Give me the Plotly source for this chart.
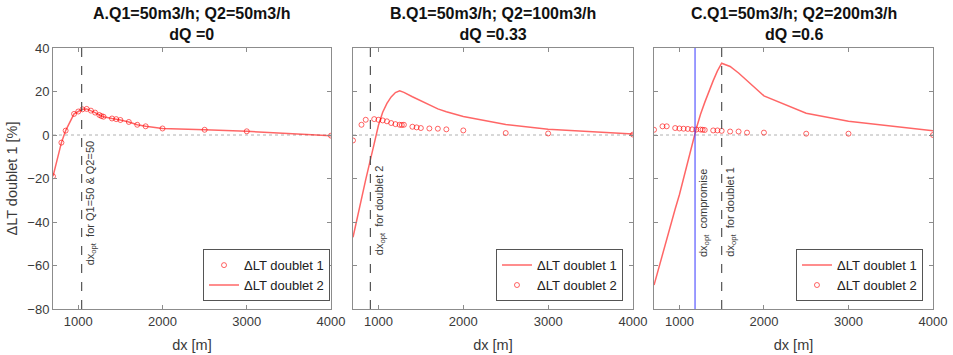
import plotly.graph_objects as go

# Well spacing grid [m]
dx = [700, 800, 850, 950, 1000, 1050, 1100, 1150, 1200, 1250, 1275, 1300,
      1400, 1450, 1500, 1600, 1700, 1800, 2000, 2500, 3000, 4000]

# Change in lifetime [%] per doublet
# A: Q1 = Q2, both doublets respond identically
a_doublet1 = [-19.0, -3.5, 2.0, 9.7, 10.8, 11.8, 12.0, 11.2, 10.3, 9.2, 8.7, 8.4,
              7.6, 7.3, 6.9, 6.0, 4.7, 4.0, 3.0, 2.4, 1.7, -0.3]
a_doublet2 = list(a_doublet1)

b_doublet1 = [-47.0, -29.0, -20.5, -4.0, 4.5, 10.5, 14.5, 17.5, 19.5, 20.3, 20.1, 19.6,
              17.6, 16.7, 15.7, 13.8, 12.0, 10.7, 8.5, 4.8, 2.7, 0.5]
b_doublet2 = [-2.5, 4.7, 7.0, 7.3, 7.0, 6.7, 6.3, 5.5, 5.0, 4.7, 4.6, 4.7,
              3.8, 3.5, 3.2, 3.0, 2.9, 2.6, 2.1, 0.9, 0.7, 0.2]

c_doublet1 = [-69.0, -55.0, -47.0, -34.0, -27.5, -20.0, -12.0, -4.0, 3.0, 9.5, 12.3, 15.0,
              25.0, 29.5, 33.0, 31.5, 28.5, 25.0, 18.0, 10.0, 6.3, 2.0]
c_doublet2 = [2.4, 4.0, 4.0, 3.2, 3.0, 2.9, 2.8, 2.6, 2.5, 2.5, 2.4, 2.3,
              2.1, 2.1, 1.9, 1.6, 1.6, 1.1, 1.1, 0.6, 0.6, 0.0]

# Optimal spacings
dx_opt_a = 1040
dx_opt_b = 905
dx_opt_c = 1500
dx_compromise_c = 1185

titles = ["<b>A.Q1=50m3/h; Q2=50m3/h</b><br><b>dQ =0</b>",
          "<b>B.Q1=50m3/h; Q2=100m3/h</b><br><b>dQ =0.33</b>",
          "<b>C.Q1=50m3/h; Q2=200m3/h</b><br><b>dQ =0.6</b>"]

RED = "rgba(255,0,0,0.6)"
FONT = "Liberation Sans, Arial, sans-serif"
AXCOL = "#8c8c8c"
TXTCOL = "#3a3a3a"

# plot area geometry (paper fractions)
domains = [[0.0, 0.3159], [0.3409, 0.6591], [0.6830, 1.0]]

fig = go.Figure()

line_style = dict(color=RED, width=1.5)
marker_style = dict(symbol="circle-open", size=5, color=RED, line=dict(width=1, color=RED))

# Panel A
fig.add_trace(go.Scatter(x=dx, y=a_doublet1, mode="markers", marker=marker_style,
                         name="ΔLT doublet 1", xaxis="x", yaxis="y", legend="legend"))
fig.add_trace(go.Scatter(x=dx, y=a_doublet2, mode="lines", line=line_style,
                         name="ΔLT doublet 2", xaxis="x", yaxis="y", legend="legend"))
# Panel B
fig.add_trace(go.Scatter(x=dx, y=b_doublet1, mode="lines", line=line_style,
                         name="ΔLT doublet 1", xaxis="x2", yaxis="y2", legend="legend2"))
fig.add_trace(go.Scatter(x=dx, y=b_doublet2, mode="markers", marker=marker_style,
                         name="ΔLT doublet 2", xaxis="x2", yaxis="y2", legend="legend2"))
# Panel C
fig.add_trace(go.Scatter(x=dx, y=c_doublet1, mode="lines", line=line_style,
                         name="ΔLT doublet 1", xaxis="x3", yaxis="y3", legend="legend3"))
fig.add_trace(go.Scatter(x=dx, y=c_doublet2, mode="markers", marker=marker_style,
                         name="ΔLT doublet 2", xaxis="x3", yaxis="y3", legend="legend3"))

shapes = []
annotations = []
for i in range(3):
    xr = "x" if i == 0 else f"x{i+1}"
    yr = "y" if i == 0 else f"y{i+1}"
    # zero reference line
    shapes.append(dict(type="line", xref=xr, yref=yr, x0=700, x1=4000, y0=0, y1=0,
                       line=dict(color="#b0b0b0", width=1, dash="dot"), layer="below"))
    # panel title
    annotations.append(dict(text=titles[i], xref="paper", yref="paper",
                            x=sum(domains[i]) / 2, y=1.0, yshift=3,
                            xanchor="center", yanchor="bottom", showarrow=False,
                            font=dict(family=FONT, size=16, color="#111111")))

def vline(xr, yr, xv, color, dash):
    shapes.append(dict(type="line", xref=xr, yref=yr, x0=xv, x1=xv, y0=-80, y1=40,
                       line=dict(color=color, width=1.2, dash=dash)))

def vlabel(xr, yr, xv, text, ybottom):
    annotations.append(dict(text=text, xref=xr, yref=yr, x=xv, y=ybottom, xshift=9,
                            textangle=-90, xanchor="center", yanchor="bottom",
                            showarrow=False,
                            font=dict(family=FONT, size=11, color=TXTCOL)))

vline("x", "y", dx_opt_a, "#555555", "dash")
vlabel("x", "y", dx_opt_a, "dx<sub>opt</sub>  for Q1=50 & Q2=50", -61)
vline("x2", "y2", dx_opt_b, "#555555", "dash")
vlabel("x2", "y2", dx_opt_b, "dx<sub>opt</sub>  for doublet 2", -56)
vline("x3", "y3", dx_compromise_c, "rgba(60,60,255,0.85)", "solid")
vlabel("x3", "y3", dx_compromise_c, "dx<sub>opt</sub>  compromise", -57)
vline("x3", "y3", dx_opt_c, "#555555", "dash")
vlabel("x3", "y3", dx_opt_c, "dx<sub>opt</sub>  for doublet 1", -57)

xaxis_common = dict(range=[700, 4000], tickvals=[1000, 2000, 3000, 4000],
                    ticks="inside", ticklen=4, tickcolor=AXCOL, showline=True,
                    linecolor=AXCOL, linewidth=1, mirror="allticks", showgrid=False,
                    zeroline=False, automargin=False,
                    tickfont=dict(family=FONT, size=13, color=TXTCOL),
                    title=dict(text="dx [m]", standoff=12,
                               font=dict(family=FONT, size=14.5, color=TXTCOL)))
yaxis_common = dict(range=[-80, 40], tickvals=[-80, -60, -40, -20, 0, 20, 40],
                    ticks="inside", ticklen=4, tickcolor=AXCOL, showline=True,
                    linecolor=AXCOL, linewidth=1, mirror="allticks", showgrid=False,
                    zeroline=False, automargin=False,
                    tickfont=dict(family=FONT, size=13, color=TXTCOL))

legend_common = dict(yanchor="bottom", xanchor="right", y=0.03, bgcolor="white",
                     bordercolor="#555555", borderwidth=1, itemwidth=30,
                     font=dict(family=FONT, size=13, color="#222222"))

fig.update_layout(
    width=953, height=355,
    margin=dict(l=53, r=20, t=48, b=46),
    plot_bgcolor="white", paper_bgcolor="white",
    xaxis=dict(domain=domains[0], anchor="y", **xaxis_common),
    xaxis2=dict(domain=domains[1], anchor="y2", **xaxis_common),
    xaxis3=dict(domain=domains[2], anchor="y3", **xaxis_common),
    yaxis=dict(anchor="x", showticklabels=True,
               title=dict(text="ΔLT doublet 1 [%]", standoff=6,
                          font=dict(family=FONT, size=14.5, color=TXTCOL)),
               **yaxis_common),
    yaxis2=dict(anchor="x2", showticklabels=False, **yaxis_common),
    yaxis3=dict(anchor="x3", showticklabels=False, **yaxis_common),
    legend=dict(x=0.3148, **legend_common),
    legend2=dict(x=0.6477, **legend_common),
    legend3=dict(x=0.9886, **legend_common),
    shapes=shapes,
    annotations=annotations,
)

fig.write_html("out.html")
